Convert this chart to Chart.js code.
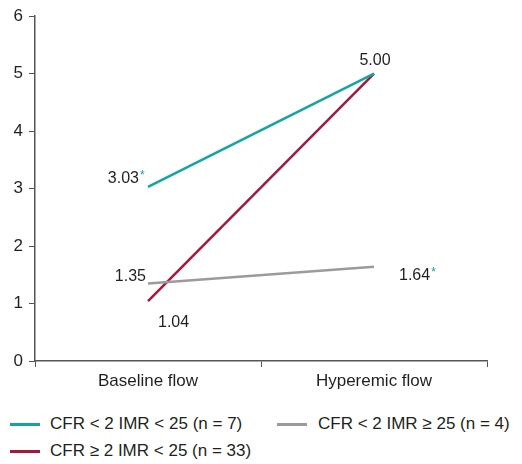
<!DOCTYPE html>
<html><head><meta charset="utf-8">
<script src="https://cdn.jsdelivr.net/npm/chart.js@4"></script>
<style>
html,body{margin:0;padding:0;background:#fff;}
#wrap{position:relative;width:522px;height:464px;font-family:"Liberation Sans",Arial,sans-serif;color:#231f20;}
#cv{position:absolute;left:0;top:0;}
.lg{position:absolute;font-size:17px;line-height:18px;white-space:nowrap;}
.sw{position:absolute;height:2.5px;width:30px;}
</style></head><body>
<div id="wrap">
<canvas id="cv" width="522" height="390"></canvas>
<div class="sw" style="left:10px;top:423px;background:#12a5a1"></div>
<div class="lg" style="left:50px;top:415px">CFR &lt; 2 IMR &lt; 25 (n = 7)</div>
<div class="sw" style="left:277px;top:423px;background:#9b9b9e"></div>
<div class="lg" style="left:318px;top:415px">CFR &lt; 2 IMR ≥ 25 (n = 4)</div>
<div class="sw" style="left:10px;top:450px;background:#a3193d"></div>
<div class="lg" style="left:50px;top:442px">CFR ≥ 2 IMR &lt; 25 (n = 33)</div>
</div>
<script>
const categories = ["Baseline flow", "Hyperemic flow"];
const seriesNames = ["CFR < 2 IMR < 25 (n = 7)", "CFR ≥ 2 IMR < 25 (n = 33)", "CFR < 2 IMR ≥ 25 (n = 4)"];
const tealValues = [3.03, 5.00];
const redValues = [1.04, 5.00];
const grayValues = [1.35, 1.64];
const yTicks = [0, 1, 2, 3, 4, 5, 6];

const FONT = '"Liberation Sans", Arial, sans-serif';

const labelPlugin = {
  id: 'valueLabels',
  afterDatasetsDraw(chart) {
    const ctx = chart.ctx;
    const xs = chart.scales.x, ys = chart.scales.y;
    ctx.save();
    ctx.font = '16px ' + FONT;
    ctx.fillStyle = '#231f20';
    ctx.textBaseline = 'middle';
    function txt(s, x, y, align) { ctx.textAlign = align; ctx.fillText(s, x, y); return ctx.measureText(s).width; }
    function star(x, y) { ctx.save(); ctx.fillStyle = '#12a5a1'; ctx.font = '12px ' + FONT; ctx.textAlign = 'left'; ctx.fillText('*', x, y - 3); ctx.restore(); }
    const x0 = xs.getPixelForValue(0), x1 = xs.getPixelForValue(1);
    let y = ys.getPixelForValue(tealValues[0]);
    txt(tealValues[0].toFixed(2), x0 - 9, y - 8, 'right');
    star(x0 - 8, y - 8);
    y = ys.getPixelForValue(grayValues[0]);
    txt(grayValues[0].toFixed(2), x0 - 2, y - 7, 'right');
    y = ys.getPixelForValue(redValues[0]);
    txt(redValues[0].toFixed(2), x0 + 10, y + 21, 'left');
    y = ys.getPixelForValue(tealValues[1]);
    txt(tealValues[1].toFixed(2), x1 + 1, y - 13, 'center');
    y = ys.getPixelForValue(grayValues[1]);
    const w = txt(grayValues[1].toFixed(2), x1 + 25, y + 9, 'left');
    star(x1 + 26 + w, y + 9);
    ctx.restore();
  }
};

new Chart(document.getElementById('cv'), {
  type: 'line',
  data: {
    labels: categories,
    datasets: [
      { label: seriesNames[0], data: tealValues, borderColor: '#12a5a1', borderWidth: 2.5, pointRadius: 0, tension: 0 },
      { label: seriesNames[2], data: grayValues, borderColor: '#9b9b9e', borderWidth: 2.5, pointRadius: 0, tension: 0 },
      { label: seriesNames[1], data: redValues, borderColor: '#a3193d', borderWidth: 2.5, pointRadius: 0, tension: 0 }
    ]
  },
  options: {
    responsive: false,
    animation: false,
    layout: { padding: { top: 15, right: 35, left: 0, bottom: 0 } },
    plugins: { legend: { display: false }, tooltip: { enabled: false } },
    scales: {
      x: {
        offset: true,
        grid: { display: true, drawOnChartArea: false, drawTicks: true, tickLength: 6, color: '#555', offset: true },
        border: { color: '#555', width: 1.5 },
        ticks: { color: '#231f20', font: { family: FONT, size: 17 }, padding: 4 },
        afterFit(s) { s.height = 29; }
      },
      y: {
        min: 0, max: 6,
        afterBuildTicks(s) { s.ticks = yTicks.map(v => ({ value: v })); },
        grid: { display: true, drawOnChartArea: false, drawTicks: true, tickLength: 6, color: '#555' },
        border: { color: '#555', width: 1.5 },
        ticks: { color: '#231f20', font: { family: FONT, size: 17 }, padding: 6 },
        afterFit(s) { s.width = 35; }
      }
    }
  },
  plugins: [labelPlugin]
});
</script>
</body></html>
